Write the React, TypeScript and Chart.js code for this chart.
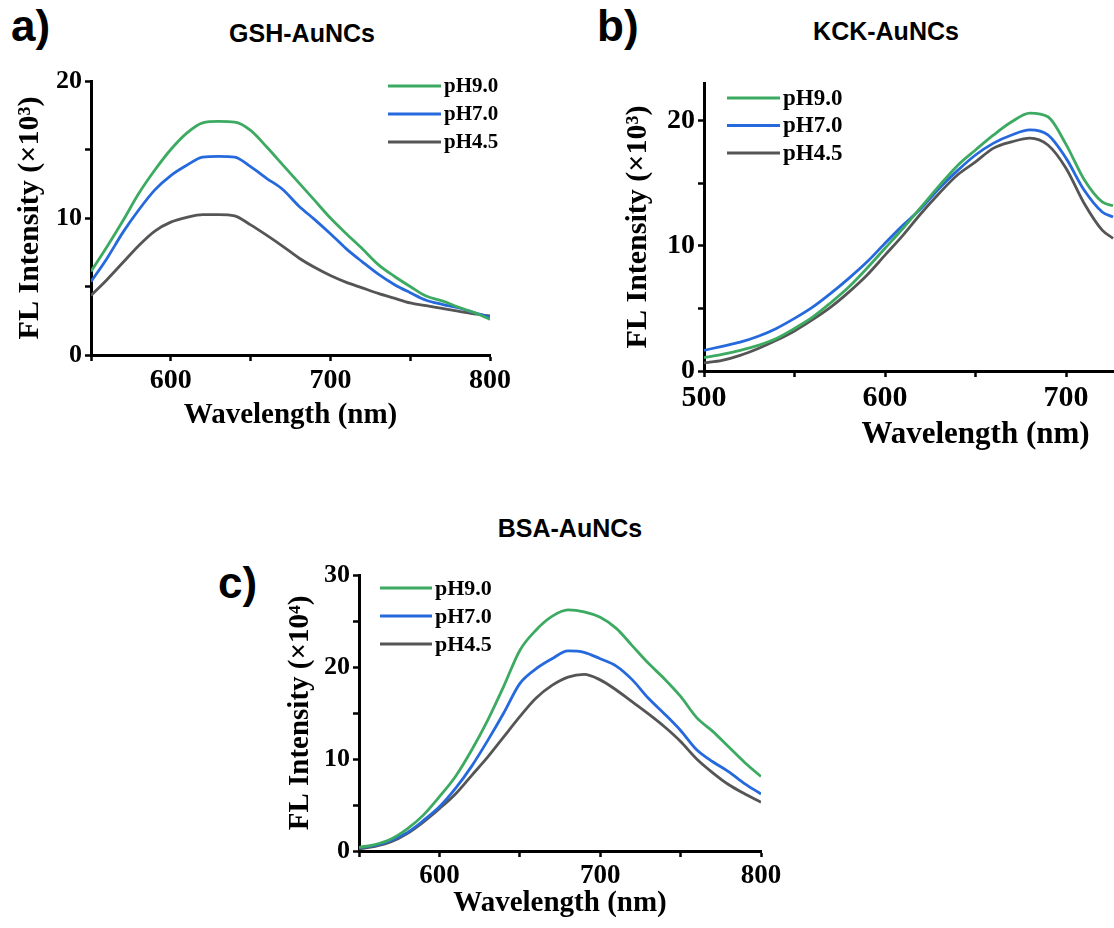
import React, { useEffect, useRef } from 'react';
import { Chart, registerables } from 'chart.js';

Chart.register(...registerables);

const SERIF = "'Liberation Serif', 'Times New Roman', serif";
const SANS = "'Liberation Sans', Arial, sans-serif";

// ---------- shared series info ----------
const seriesLabels = ['pH9.0', 'pH7.0', 'pH4.5'];
const seriesColors = ['#3daa62', '#2569dd', '#555555'];

// ---------- a) GSH-AuNCs (×10^3) ----------
const gshWavelengths = [550, 560, 570, 580, 590, 600, 610, 620, 630, 640, 650, 660, 670, 680, 690, 700, 710, 720, 730, 740, 750, 760, 770, 780, 790, 800];
const gshPH90 = [6.1, 7.9, 9.8, 11.8, 13.5, 15.0, 16.2, 16.95, 17.05, 17.0, 16.4, 15.2, 13.9, 12.6, 11.3, 10.0, 8.85, 7.75, 6.6, 5.75, 5.0, 4.3, 3.95, 3.5, 3.1, 2.6];
const gshPH70 = [5.35, 7.05, 8.95, 10.6, 12.05, 13.1, 13.85, 14.45, 14.5, 14.45, 13.75, 12.9, 12.1, 10.9, 9.9, 8.85, 7.75, 6.8, 5.9, 5.15, 4.55, 4.0, 3.7, 3.45, 3.1, 2.75];
const gshPH45 = [4.35, 5.5, 6.75, 8.0, 9.05, 9.7, 10.05, 10.25, 10.25, 10.15, 9.5, 8.75, 7.95, 7.1, 6.4, 5.8, 5.3, 4.9, 4.5, 4.15, 3.8, 3.6, 3.4, 3.2, 3.0, 2.85];

// ---------- b) KCK-AuNCs (×10^3) ----------
const kckWavelengths = [500, 510, 520, 530, 540, 550, 560, 570, 580, 590, 600, 610, 620, 630, 640, 650, 660, 670, 680, 690, 700, 710, 720, 726];
const kckPH90 = [1.07, 1.33, 1.65, 2.05, 2.6, 3.4, 4.3, 5.45, 6.7, 8.2, 9.8, 11.4, 13.1, 14.8, 16.4, 17.65, 18.85, 19.9, 20.6, 20.3, 18.1, 15.3, 13.5, 13.2];
const kckPH70 = [1.65, 1.97, 2.3, 2.77, 3.4, 4.2, 5.1, 6.2, 7.4, 8.7, 10.2, 11.65, 13.0, 14.6, 16.0, 17.25, 18.2, 18.85, 19.25, 18.85, 17.0, 14.45, 12.7, 12.3];
const kckPH45 = [0.64, 0.85, 1.25, 1.8, 2.45, 3.2, 4.1, 5.1, 6.3, 7.65, 9.25, 10.85, 12.6, 14.2, 15.65, 16.7, 17.8, 18.3, 18.6, 18.05, 16.2, 13.4, 11.25, 10.6];

// ---------- c) BSA-AuNCs (×10^4) ----------
const bsaWavelengths = [550, 560, 570, 580, 590, 600, 610, 620, 630, 640, 650, 660, 670, 680, 690, 700, 710, 720, 730, 740, 750, 760, 770, 780, 790, 800];
const bsaPH90 = [0.4, 0.7, 1.3, 2.4, 3.9, 5.9, 8.1, 10.95, 14.2, 17.9, 21.8, 24.0, 25.5, 26.2, 26.0, 25.4, 24.2, 22.3, 20.4, 18.7, 16.8, 14.5, 13.0, 11.3, 9.6, 8.1];
const bsaPH70 = [0.36, 0.6, 1.15, 2.0, 3.3, 4.8, 6.8, 9.2, 12.0, 15.0, 18.2, 19.8, 20.9, 21.75, 21.6, 20.9, 20.1, 18.6, 16.6, 14.9, 13.1, 11.0, 9.7, 8.6, 7.3, 6.2];
const bsaPH45 = [0.25, 0.5, 1.0, 1.9, 3.15, 4.6, 6.2, 8.2, 10.2, 12.4, 14.6, 16.6, 18.0, 18.9, 19.2, 18.6, 17.5, 16.2, 14.9, 13.5, 11.9, 10.0, 8.5, 7.2, 6.2, 5.3];

// ---------- axis text ----------
const xAxisTitle = 'Wavelength (nm)';
const yTitle3 = 'FL Intensity (×10³)';
const yTitle4 = 'FL Intensity (×10⁴)';

type Box = { left: number; top: number; width: number; height: number };
type Area = { left: number; top: number; right: number; bottom: number };
type PanelCfg = {
  canvas: Box;
  area: Area;
  xMin: number; xMax: number; yMin: number; yMax: number;
  xTickSize: number; yTickSize: number;
  xTitleSize: number; yTitleSize: number;
  xTitleCenterY: number; yTitleCenterX: number;
  yTitle: string;
  legend: { x: number; y: number; gap: number; len: number; fontSize: number };
  xs: number[];
  series: number[][];
};

const panels: PanelCfg[] = [
  {
    canvas: { left: 0, top: 60, width: 520, height: 400 },
    area: { left: 91, top: 81, right: 490, bottom: 355 },
    xMin: 550, xMax: 800, yMin: 0, yMax: 20,
    xTickSize: 28, yTickSize: 26, xTitleSize: 29, yTitleSize: 30,
    xTitleCenterY: 416, yTitleCenterX: 30,
    yTitle: yTitle3,
    legend: { x: 388, y: 86, gap: 28, len: 53, fontSize: 21 },
    xs: gshWavelengths,
    series: [gshPH90, gshPH70, gshPH45],
  },
  {
    canvas: { left: 600, top: 60, width: 700, height: 400 },
    area: { left: 704, top: 83, right: 1247, bottom: 371 },
    xMin: 500, xMax: 800, yMin: 0, yMax: 23,
    xTickSize: 30, yTickSize: 28, xTitleSize: 31, yTitleSize: 30,
    xTitleCenterY: 435, yTitleCenterX: 638,
    yTitle: yTitle3,
    legend: { x: 727, y: 98, gap: 27.5, len: 53, fontSize: 23 },
    xs: kckWavelengths,
    series: [kckPH90, kckPH70, kckPH45],
  },
  {
    canvas: { left: 260, top: 550, width: 540, height: 378 },
    area: { left: 359, top: 575, right: 761, bottom: 851 },
    xMin: 550, xMax: 800, yMin: 0, yMax: 30,
    xTickSize: 27, yTickSize: 26, xTitleSize: 29, yTitleSize: 29,
    xTitleCenterY: 904, yTitleCenterX: 301,
    yTitle: yTitle4,
    legend: { x: 380, y: 588, gap: 28, len: 52, fontSize: 22 },
    xs: bsaWavelengths,
    series: [bsaPH90, bsaPH70, bsaPH45],
  },
];

const inlineLegend = {
  id: 'inlineLegend',
  afterDatasetsDraw(chart: any, _args: any, opts: any) {
    const { ctx } = chart;
    ctx.save();
    ctx.font = `bold ${opts.fontSize}px ${SERIF}`;
    ctx.textBaseline = 'middle';
    ctx.textAlign = 'left';
    chart.data.datasets.forEach((ds: any, i: number) => {
      const y = opts.y + i * opts.gap;
      ctx.strokeStyle = ds.borderColor;
      ctx.lineWidth = 3;
      ctx.beginPath();
      ctx.moveTo(opts.x, y);
      ctx.lineTo(opts.x + opts.len, y);
      ctx.stroke();
      ctx.fillStyle = '#000';
      ctx.fillText(ds.label, opts.x + opts.len + 3, y + 1);
    });
    ctx.restore();
  },
};

function buildChart(el: HTMLCanvasElement, p: PanelCfg) {
  const c = p.canvas;
  const xLH = p.xTitleSize * 1.2;
  const yLH = p.yTitleSize * 1.2;
  const yAxisWidth = p.area.left - c.left;
  const xAxisHeight = c.top + c.height - p.area.bottom;
  const gridCommon = {
    display: true,
    drawOnChartArea: false,
    drawTicks: true,
    tickLength: 6,
    tickWidth: 2.5,
    tickColor: '#000',
  };
  return new Chart(el, {
    type: 'line',
    data: {
      datasets: p.series.map((vals, i) => ({
        label: seriesLabels[i],
        data: p.xs.map((x, j) => ({ x, y: vals[j] })),
        borderColor: seriesColors[i],
        backgroundColor: seriesColors[i],
        borderWidth: 2.8,
        pointRadius: 0,
        tension: 0.4,
        cubicInterpolationMode: 'monotone',
        fill: false,
      })),
    },
    options: {
      responsive: false,
      animation: false,
      devicePixelRatio: 1,
      events: [],
      layout: {
        padding: {
          top: p.area.top - c.top,
          right: c.left + c.width - p.area.right,
          left: 0,
          bottom: 0,
        },
      },
      plugins: {
        legend: { display: false },
        tooltip: { enabled: false },
        inlineLegend: {
          x: p.legend.x - c.left,
          y: p.legend.y - c.top,
          gap: p.legend.gap,
          len: p.legend.len,
          fontSize: p.legend.fontSize,
        },
      } as any,
      scales: {
        x: {
          type: 'linear',
          min: p.xMin,
          max: p.xMax,
          border: { display: true, width: 3, color: '#000' },
          grid: gridCommon,
          ticks: {
            stepSize: 50,
            includeBounds: false,
            autoSkip: false,
            maxRotation: 0,
            padding: 3,
            color: '#000',
            font: { family: SERIF, size: p.xTickSize, weight: 'bold' },
            callback: (v: any) => (Number(v) % 100 === 0 ? String(v) : ''),
          },
          title: {
            display: true,
            text: xAxisTitle,
            color: '#000',
            font: { family: SERIF, size: p.xTitleSize, weight: 'bold' },
            padding: { top: 0, bottom: c.top + c.height - p.xTitleCenterY - xLH / 2 },
          },
          afterFit: (s: any) => {
            s.height = xAxisHeight;
          },
        },
        y: {
          type: 'linear',
          min: p.yMin,
          max: p.yMax,
          border: { display: true, width: 3, color: '#000' },
          grid: gridCommon,
          ticks: {
            stepSize: 5,
            includeBounds: false,
            autoSkip: false,
            padding: 3,
            color: '#000',
            font: { family: SERIF, size: p.yTickSize, weight: 'bold' },
            callback: (v: any) => (Number(v) % 10 === 0 ? String(v) : ''),
          },
          title: {
            display: true,
            text: p.yTitle,
            color: '#000',
            font: { family: SERIF, size: p.yTitleSize, weight: 'bold' },
            padding: { top: p.yTitleCenterX - c.left - yLH / 2, bottom: 0 },
          },
          afterFit: (s: any) => {
            s.width = yAxisWidth;
          },
        },
      },
    } as any,
    plugins: [inlineLegend],
  });
}

function TextAt(props: { text: string; x: number; baseline: number; size: number; family: string; center?: boolean }) {
  const asc = props.family === SANS ? 0.8465 : 0.8375;
  const top = props.baseline - asc * props.size;
  const style: React.CSSProperties = {
    position: 'absolute',
    top,
    fontFamily: props.family,
    fontWeight: 'bold',
    fontSize: props.size,
    lineHeight: 1,
    whiteSpace: 'nowrap',
    color: '#000',
  };
  if (props.center) {
    style.left = props.x - 200;
    style.width = 400;
    style.textAlign = 'center';
  } else {
    style.left = props.x;
  }
  return <div style={style}>{props.text}</div>;
}

export default function App() {
  const refA = useRef<HTMLCanvasElement>(null);
  const refB = useRef<HTMLCanvasElement>(null);
  const refC = useRef<HTMLCanvasElement>(null);

  useEffect(() => {
    const refs = [refA, refB, refC];
    const charts = refs.map((r, i) => buildChart(r.current as HTMLCanvasElement, panels[i]));
    return () => charts.forEach((ch) => ch.destroy());
  }, []);

  const refs = [refA, refB, refC];
  return (
    <div
      style={{
        position: 'fixed',
        left: 0,
        top: 0,
        width: 1114,
        height: 928,
        overflow: 'hidden',
        background: '#fff',
      }}
    >
      {panels.map((p, i) => (
        <canvas
          key={i}
          ref={refs[i]}
          width={p.canvas.width}
          height={p.canvas.height}
          style={{
            position: 'absolute',
            left: p.canvas.left,
            top: p.canvas.top,
            width: p.canvas.width,
            height: p.canvas.height,
          }}
        />
      ))}
      <TextAt text="a)" x={11} baseline={41} size={44} family={SANS} />
      <TextAt text="b)" x={597} baseline={41} size={44} family={SANS} />
      <TextAt text="c)" x={218} baseline={598} size={44} family={SANS} />
      <TextAt text="GSH-AuNCs" x={302} baseline={42} size={25} family={SANS} center />
      <TextAt text="KCK-AuNCs" x={886} baseline={40} size={25} family={SANS} center />
      <TextAt text="BSA-AuNCs" x={570} baseline={537} size={25} family={SANS} center />
    </div>
  );
}
